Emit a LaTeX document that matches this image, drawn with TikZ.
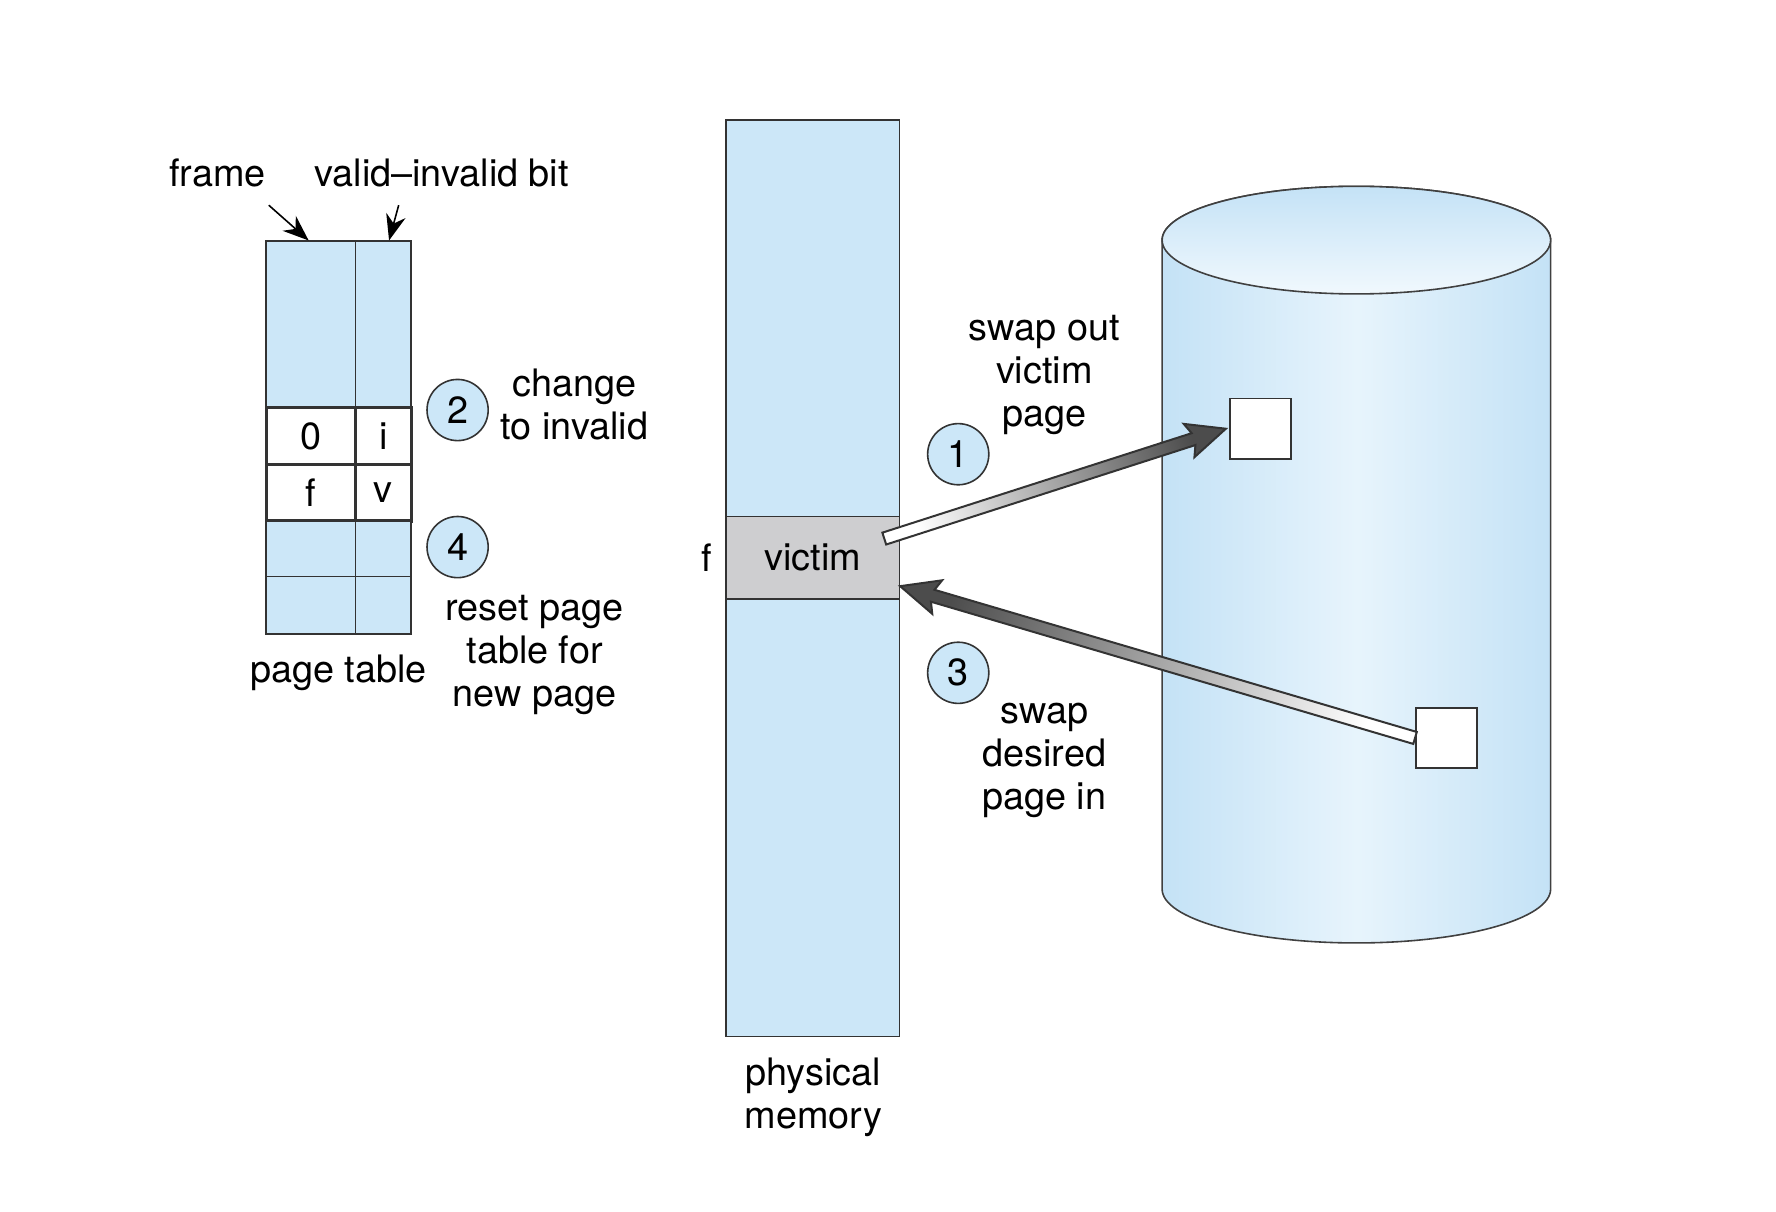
\documentclass[tikz,border=0pt]{standalone}
\usepackage{fontspec}
\setmainfont{TeX Gyre Heros}
\usetikzlibrary{calc, arrows.meta}

\definecolor{memblue}{RGB}{204,231,248}
\definecolor{cylblue}{RGB}{196,226,246}
\definecolor{cyllight}{RGB}{231,244,252}
\definecolor{victimgray}{RGB}{206,206,208}

\tikzset{
  txt/.style={font=\fontsize{9.5}{10.8}\selectfont, align=center, inner sep=0pt},
  cell/.style={txt, draw=black!80, fill=memblue, minimum width=0.79cm},
  bitcell/.style={cell, minimum width=0.49cm},
  stepnum/.style={txt, circle, draw=black!80, fill=memblue, minimum size=0.54cm},
  diskpage/.style={draw=black!80, fill=white, minimum width=0.54cm, minimum height=0.53cm, inner sep=0pt},
  swaparrow/.style={draw=black!80, line width=0.5pt, bottom color=white, top color=black!70}
}

\begin{document}
\begin{tikzpicture}
			\useasboundingbox (0,0) rectangle (15.68,10.70);
			
			% page table
			\node(f0) [cell, minimum height=1.47cm] at (2.745,7.835){};
			\node(b0) [bitcell, minimum height=1.47cm] at (3.385,7.835){};
			\node(f1) [cell, fill=white, line width=0.8pt, minimum height=0.50cm] at (2.745,6.85){0};
			\node(b1) [bitcell, fill=white, line width=0.8pt, minimum height=0.50cm] at (3.385,6.85){i};
			\node(f2) [cell, fill=white, line width=0.8pt, minimum height=0.50cm] at (2.745,6.35){f};
			\node(b2) [bitcell, fill=white, line width=0.8pt, minimum height=0.50cm] at (3.385,6.35){v};
			\node(f3) [cell, minimum height=0.49cm] at (2.745,5.855){};
			\node(b3) [bitcell, minimum height=0.49cm] at (3.385,5.855){};
			\node(f4) [cell, minimum height=0.51cm] at (2.745,5.355){};
			\node(b4) [bitcell, minimum height=0.51cm] at (3.385,5.355){};
			
			\node(frm) [txt] at (1.92,9.17){frame};
			\node(vib) [txt] at (3.90,9.17){valid--invalid bit};
			\draw[-{Stealth[length=6.5pt,width=5pt]}] ($(frm.south east)+(0.02,-0.15)$) -- ($(f0.north)+(-0.02,0)$);
			\draw[-{Stealth[length=6.5pt,width=5pt]}] ($(vib.south)+(-0.38,-0.15)$) -- ($(b0.north)+(0.05,0)$);
			\node(ptl) [txt] at (2.99,4.76){page table};
			
			\node(s2) [stepnum] at (4.04,7.08){2};
			\node(chg) [txt] at (5.07,7.13){change\\to invalid};
			\node(s4) [stepnum] at (4.04,5.87){4};
			\node(rst) [txt] at (4.72,4.92){reset page\\table for\\new page};
			
			% physical memory
			\node(mem) [draw=black!80, fill=memblue, minimum width=1.53cm, minimum height=8.09cm, inner sep=0pt] at (7.175,5.595){};
			\node(victim) [txt, draw=black!80, fill=victimgray, minimum width=1.53cm, minimum height=0.73cm] at (7.175,5.775){victim};
			\node(fl) [txt] at (6.24,5.78){f};
			\node(phm) [txt] at (7.18,1.01){physical\\memory};
			
			% disk
			\shade[draw=black!75, left color=cylblue, right color=cylblue, middle color=cyllight] (10.26,8.58) -- (10.26,2.85) arc[start angle=180, end angle=360, x radius=1.715cm, y radius=0.475cm] -- (13.69,8.58) arc[start angle=0, end angle=180, x radius=1.715cm, y radius=0.475cm] -- cycle;
			\shade[draw=black!75, top color=cylblue, bottom color=cyllight!60!white] (11.975,8.58) ellipse [x radius=1.715cm, y radius=0.475cm];
			\node(box1) [diskpage] at (11.13,6.915){};
			\node(box2) [diskpage] at (12.77,4.185){};
			
			\node(s1) [stepnum] at (8.46,6.69){1};
			\node(out) [txt] at (9.22,7.39){swap out\\victim\\page};
			\node(s3) [stepnum] at (8.46,4.76){3};
			\node(in) [txt] at (9.22,3.99){swap\\desired\\page in};
			
			% swap arrows
			\coordinate(t1) at ($(victim.east)+(-0.14,0.17)$);
			\coordinate(h1) at ($(box1.west)+(-0.03,0)$);
			\coordinate(k1) at ($(h1)!0.30cm!(t1)$);
			\shade[swaparrow, shading angle=-72] ($(t1)!0.055cm!90:(h1)$) -- ($(k1)!0.055cm!-90:(t1)$) -- ($(k1)!0.16cm!-75:(t1)$) -- (h1) -- ($(k1)!0.16cm!75:(t1)$) -- ($(k1)!0.055cm!90:(t1)$) -- ($(t1)!0.055cm!-90:(h1)$) -- cycle;
			
			\coordinate(t3) at (box2.west);
			\coordinate(h3) at ($(victim.east)+(0,-0.25)$);
			\coordinate(k3) at ($(h3)!0.30cm!(t3)$);
			\shade[swaparrow, shading angle=73.5] ($(t3)!0.055cm!90:(h3)$) -- ($(k3)!0.055cm!-90:(t3)$) -- ($(k3)!0.16cm!-75:(t3)$) -- (h3) -- ($(k3)!0.16cm!75:(t3)$) -- ($(k3)!0.055cm!90:(t3)$) -- ($(t3)!0.055cm!-90:(h3)$) -- cycle;
			
		\end{tikzpicture}
\end{document}
